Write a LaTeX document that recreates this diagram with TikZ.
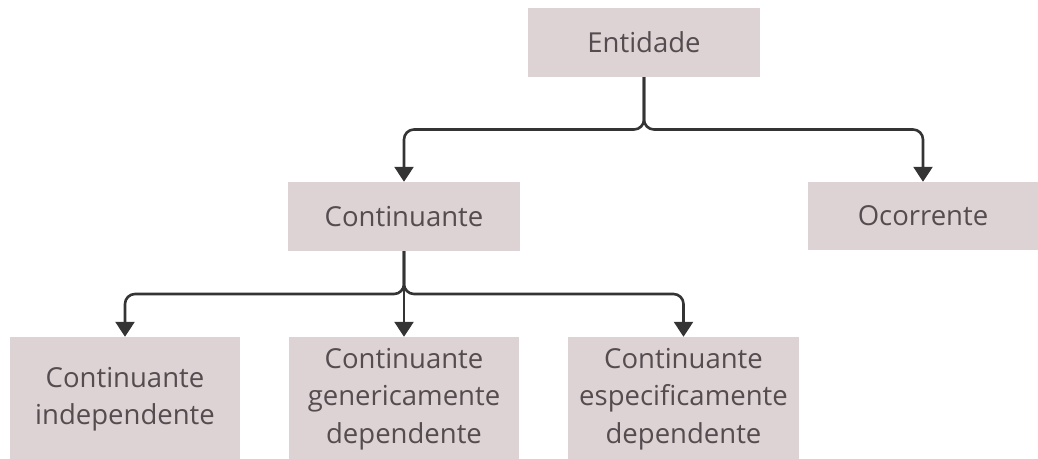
\documentclass[tikz,border=0pt]{standalone}
\usepackage{fontspec}
\setmainfont{Open Sans}
\usetikzlibrary{arrows.meta,calc}
\definecolor{boxfill}{RGB}{221,211,213}
\definecolor{boxtext}{RGB}{84,76,78}
\definecolor{linec}{RGB}{52,52,52}
\begin{document}
\begin{tikzpicture}[x=1pt,y=-1pt,
  box/.style={fill=boxfill,draw=none,text=boxtext,align=center,inner sep=0pt,
    font=\fontsize{27.5}{37.5}\selectfont},
  conn/.style={draw=linec,line width=2.6pt,rounded corners=10pt,
    -{Triangle[width=19pt,length=15pt]}}]
\useasboundingbox (0,0) rectangle (1038,458);
\node[box,minimum width=232pt,minimum height=69pt] (ent) at (644,42.5) {Entidade};
\node[box,minimum width=232pt,minimum height=69pt] (cont) at (404,216.5) {Continuante};
\node[box,minimum width=230pt,minimum height=68pt] (oc) at (923,216) {Ocorrente};
\node[box,minimum width=230pt,minimum height=124pt] (b1) at (125,399) {Continuante\\independente};
\node[box,minimum width=230pt,minimum height=124pt] (b2) at (404,399) {Continuante\\genericamente\\dependente};
\node[box,minimum width=231pt,minimum height=124pt] (b3) at (683.5,399) {Continuante\\especificamente\\dependente};
\draw[conn] (ent.south) |- ($(ent.south)!.5!(cont.north)$) -| (cont.north);
\draw[conn] (ent.south) |- ($(ent.south)!.5!(oc.north)$) -| (oc.north);
\draw[conn] (cont.south) |- ($(cont.south)!.5!(b1.north)$) -| (b1.north);
\draw[conn] (cont.south) |- ($(cont.south)!.5!(b3.north)$) -| (b3.north);
\draw[conn] (cont.south) -- (b2.north);
\end{tikzpicture}
\end{document}
